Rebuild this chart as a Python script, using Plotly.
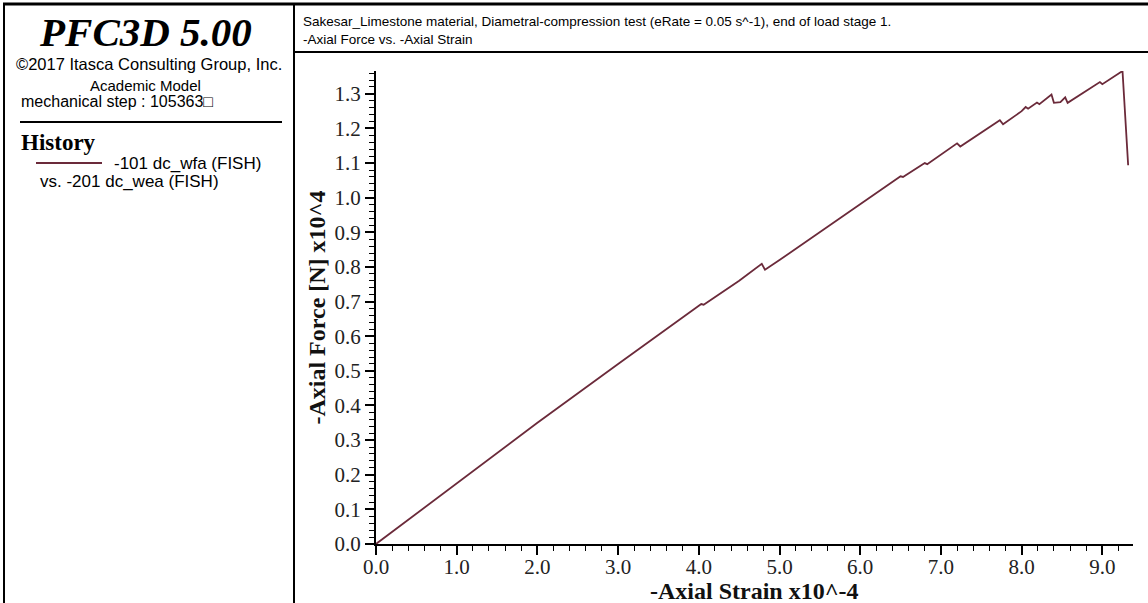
import plotly.graph_objects as go

# ---- data ----
strain = [0.0, 1.0, 2.0, 3.0, 4.0, 4.03, 4.06, 4.5, 4.78, 4.82, 5.0, 5.5, 6.0,
          6.5, 6.53, 6.8, 6.83, 7.2, 7.24, 7.5, 7.73, 7.77, 8.0, 8.05, 8.08,
          8.19, 8.22, 8.37, 8.40, 8.48, 8.54, 8.57, 8.97, 9.0, 9.25, 9.32]
force = [0.0, 0.175, 0.350, 0.520, 0.688, 0.693, 0.691, 0.760, 0.809, 0.792,
         0.820, 0.900, 0.980, 1.062, 1.060, 1.100, 1.097, 1.157, 1.148, 1.188,
         1.224, 1.212, 1.250, 1.262, 1.257, 1.275, 1.270, 1.298, 1.274, 1.276,
         1.290, 1.274, 1.334, 1.328, 1.366, 1.094]

x_range = [0.0, 9.38]
y_range = [0.0, 1.366]

title_lines = ["Sakesar_Limestone material, Diametral-compression test (eRate = 0.05 s^-1), end of load stage 1.",
               "-Axial Force vs. -Axial Strain"]
x_title = "-Axial Strain x10^-4"
y_title = "-Axial Force [N] x10^4"
legend_label_1 = "-101 dc_wfa (FISH)"
legend_label_2 = "vs. -201 dc_wea (FISH)"

# ---- layout geometry ----
W, H = 1148, 603
L, R, T, B = 376, 15, 71, 59
PW, PH = W - L - R, H - T - B
LINE = "#6b2a3a"


def px(x):
    return (x - L) / PW


def py(y):
    return (H - B - y) / PH


fig = go.Figure()
fig.add_trace(go.Scatter(x=strain, y=force, mode="lines",
                         line=dict(color=LINE, width=1.8),
                         name=legend_label_1, showlegend=False,
                         hoverinfo="skip"))

serif = "Liberation Serif, Times New Roman, serif"
sans = "Liberation Sans, Arial, sans-serif"

axis_common = dict(showline=True, linecolor="black", linewidth=2,
                   ticks="outside", ticklen=9, tickwidth=1.5, tickcolor="black",
                   showgrid=False, zeroline=False, tickformat=".1f",
                   tickfont=dict(family=serif, size=21, color="#222"))

fig.update_xaxes(range=x_range, dtick=1.0, tick0=0, ticklabelstandoff=-6,
                 minor=dict(dtick=0.2, ticklen=5, tickwidth=1.2, tickcolor="black", ticks="outside"),
                 **axis_common)
fig.update_yaxes(range=y_range, dtick=0.1, tick0=0,
                 minor=dict(dtick=0.02, ticklen=5, tickwidth=1.2, tickcolor="black", ticks="outside"),
                 title=dict(text="<b>" + y_title + "</b>", standoff=2,
                            font=dict(family=serif, size=24, color="#111")),
                 **axis_common)

shapes = []


def hline(x0, x1, y, w=2, color="black"):
    shapes.append(dict(type="line", xref="paper", yref="paper",
                       x0=px(x0), x1=px(x1), y0=py(y), y1=py(y),
                       line=dict(color=color, width=w)))


def vline(x, y0, y1, w=2, color="black"):
    shapes.append(dict(type="line", xref="paper", yref="paper",
                       x0=px(x), x1=px(x), y0=py(y0), y1=py(y1),
                       line=dict(color=color, width=w)))


hline(3, 1148, 4, w=3)        # top frame
vline(4, 3, 603, w=2)         # left frame
vline(294, 3, 603, w=2)       # divider
hline(294, 1148, 52, w=2)     # under title block
hline(20, 282, 122, w=2)      # separator in left panel
hline(36, 102, 163, w=2, color=LINE)  # legend swatch

annotations = []


def text(s, x, y, size, family=sans, anchor="left", color="black"):
    annotations.append(dict(text=s, x=px(x), y=py(y), xref="paper", yref="paper",
                            xanchor=anchor, yanchor="middle", showarrow=False,
                            font=dict(family=family, size=size, color=color)))


text("<b><i>PFC3D 5.00</i></b>", 146, 32, 41, family=serif, anchor="center")
text("©2017 Itasca Consulting Group, Inc.", 149, 64, 16.5, anchor="center")
text("Academic Model", 146, 85, 15, anchor="center")
text("mechanical step : 105363□", 19, 102, 16)
text("<b>History</b>", 19, 142, 23, family=serif)
text(legend_label_1, 112, 163, 17)
text(legend_label_2, 38, 181, 17)
text(title_lines[0], 301, 22, 13.5)
text(title_lines[1], 301, 40, 13.5)
# x-axis title
text("<b>" + x_title + "</b>", (L + W - R) / 2, 591, 24, family=serif, anchor="center", color="#111")

fig.update_layout(width=W, height=H,
                  margin=dict(l=L, r=R, t=T, b=B, autoexpand=False),
                  plot_bgcolor="white", paper_bgcolor="white",
                  shapes=shapes, annotations=annotations, showlegend=False)

fig.write_html("out.html")
